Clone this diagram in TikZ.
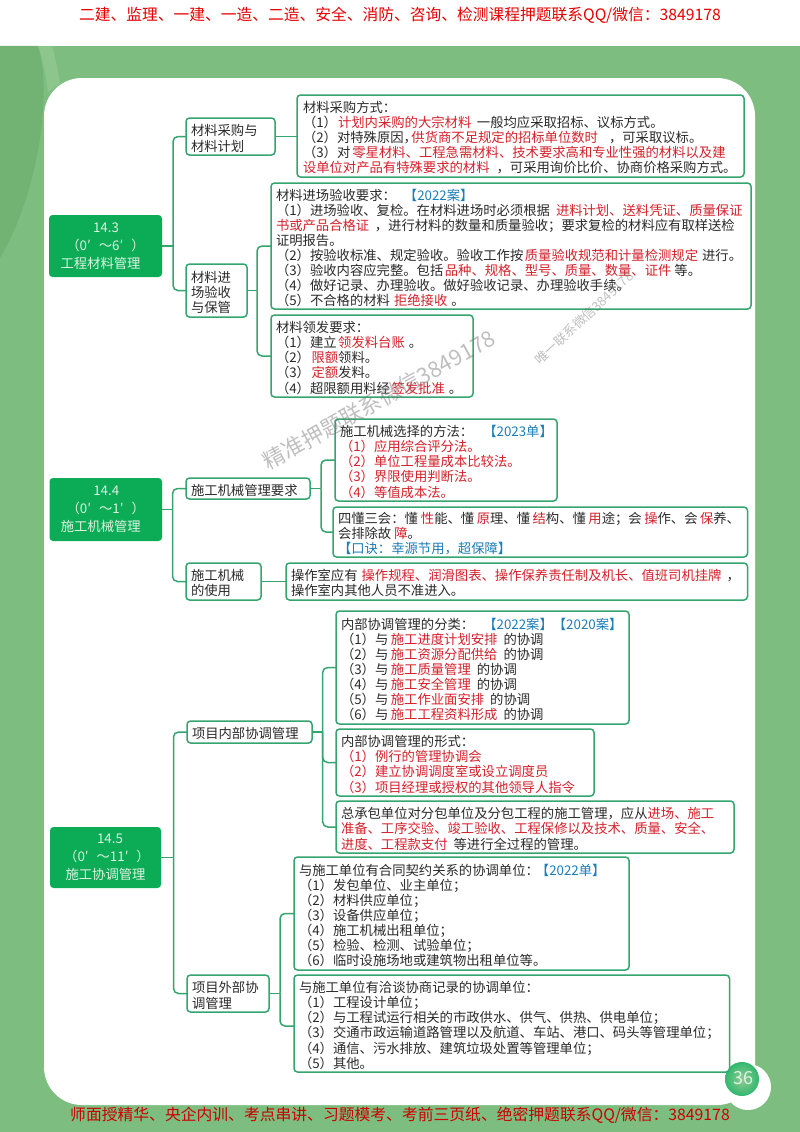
\documentclass[tikz,border=0pt]{standalone}
\usepackage{fontspec}
\setmainfont{Noto Sans CJK SC}
\normallineskiplimit=-10pt
\lineskiplimit=-10pt
\definecolor{bggreen}{HTML}{7DBE80}
\definecolor{bgdark}{HTML}{72B272}
\definecolor{bglight}{HTML}{93CA93}
\definecolor{rootgreen}{HTML}{0CAB55}
\definecolor{linegreen}{HTML}{34A56F}
\definecolor{ink}{HTML}{2A2A2A}
\definecolor{redt}{HTML}{D4212B}
\definecolor{bluet}{HTML}{1C7DB8}
\definecolor{roottext}{HTML}{DDF3E3}
\newcommand{\rd}[1]{\textcolor{redt}{#1}}
\newcommand{\bl}[1]{\textcolor{bluet}{#1}}
\newcommand{\gp}[1]{\hspace{#1pt}}
\tikzset{
  boxst/.style={draw=linegreen,line width=1.5pt,rounded corners=3.5pt,fill=white,
    inner xsep=5pt,inner ysep=0pt,outer sep=0pt,align=left,text=ink,
    font=\fontsize{13.33}{15.1}\selectfont},
  rootst/.style={fill=rootgreen,rounded corners=3.5pt,inner sep=0pt,outer sep=0pt,
    align=center,text=roottext,font=\fontsize{13.33}{18.2}\selectfont},
  conn/.style={draw=linegreen,line width=1.5pt,rounded corners=5pt},
  mark1/.style={text=black!55,opacity=.45,inner sep=0pt},
}
\newcommand{\bx}[7][]{%
  \pgfmathsetmacro\bxw{#5-#3}\pgfmathsetmacro\bxh{#6-#4}%
  \pgfmathsetmacro\bxt{#5-#3-10}%
  \pgfmathsetmacro\bxx{(#3+#5)/2}\pgfmathsetmacro\bxy{(#4+#6)/2}%
  \node[boxst,minimum width=\bxw pt,minimum height=\bxh pt,text width=\bxt pt,#1] (#2) at (\bxx,\bxy) {\rule{0pt}{15pt}\ignorespaces #7};}
\newcommand{\rt}[6]{%
  \pgfmathsetmacro\bxw{#4-#2}\pgfmathsetmacro\bxh{#5-#3}%
  \pgfmathsetmacro\bxx{(#2+#4)/2}\pgfmathsetmacro\bxy{(#3+#5)/2}%
  \node[rootst,minimum width=\bxw pt,minimum height=\bxh pt] (#1) at (\bxx,\bxy) {#6};}
\begin{document}
\begin{tikzpicture}[x=1pt,y=-1pt]
\useasboundingbox (0,0) rectangle (800,1132);
% page background
\fill[white] (0,0) rectangle (800,46);
\fill[bggreen] (0,46) rectangle (800,1132);
\fill[bgdark] (0,46) -- (38,46) .. controls (52,90) and (40,190) .. (0,258) -- cycle;
\fill[bglight,opacity=.7] (38,46) -- (52,46) .. controls (56,60) and (58,70) .. (60,84) -- (48,92) .. controls (46,76) and (43,60) .. (38,46) -- cycle;
\fill[white,rounded corners=38pt] (44,78) rectangle (755,1105);
% page number
\fill[white] (748,1087) circle (23);
\shade[inner color=bglight,outer color=rootgreen!85!white] (742,1079) circle (17);
\node[text=roottext,font=\fontsize{18}{20}\selectfont,inner sep=0pt] (pageno) at (743,1078) {36};
% header and footer
\node[text=red!90!black,font=\fontsize{15.75}{18}\selectfont,inner sep=0pt] (head) at (400,15) {二建、监理、一建、一造、二造、安全、消防、咨询、检测课程押题联系QQ/微信：3849178};
\node[text=red!80!black,font=\fontsize{15.8}{18}\selectfont,inner sep=0pt] (foot) at (400,1115) {师面授精华、央企内训、考点串讲、习题模考、考前三页纸、绝密押题联系QQ/微信：3849178};
% 14.3
\rt{r1}{49}{215}{162}{277}{\gp{1}14.3\\（0′\gp{8}～6′\gp{8}）\hspace*{6pt}\\工程材料管理\hspace*{10pt}}
\bx{c1}{186}{118}{275}{155}{材料采购与\\材料计划}
\bx{c2}{186}{264}{247}{317}{材料进\\场验收\\与保管}
\bx[inner xsep=6pt]{A}{298}{95}{743}{177}{材料采购方式：\\
（1）\gp{1}\rd{计划内采购的大宗材料}\gp{5.6}一般均应采取招标、议标方式。\\
（2）对特殊原因，\gp{-5.6}\rd{供货商不足规定的招标单位数时}\gp{11}，可采取议标。\\
（3）对\gp{2}\rd{零星材料、工程急需材料、技术要求高和专业性强的材料以及建}\\
\rd{设单位对产品有特殊要求的材料}\gp{7}，可采用询价比价、协商价格采购方式。}
\bx{B}{271}{183}{751}{309}{材料进场验收要求：\gp{8}\bl{【2022案】}\\
（1）进场验收、复检。在材料进场时必须根据\gp{6}\rd{进料计划、送料凭证、质量保证}\\
\rd{书或产品合格证}\gp{5.6}，进行材料的数量和质量验收；要求复检的材料应有取样送检\\
证明报告。\\
（2）按验收标准、规定验收。验收工作按\gp{1.5}\rd{质量验收规范和计量检测规定}\gp{4}进行。\\
（3）验收内容应完整。包括\gp{1.5}\rd{品种、规格、型号、质量、数量、证件}\gp{3}等。\\
（4）做好记录、办理验收。做好验收记录、办理验收手续。\\
（5）不合格的材料\gp{4}\rd{拒绝接收}\gp{4}。}
\bx{C}{271}{315}{473}{397}{材料领发要求：\\
（1）建立\gp{1.5}\rd{领发料台账}\gp{4}。\\
（2）\gp{1.5}\rd{限额}领料。\\
（3）\gp{1.5}\rd{定额}发料。\\
（4）超限额用料经\gp{1.5}\rd{签发批准}\gp{4}。}
\coordinate (t1) at (173,246);
\coordinate (t2) at (257,290.5);
\draw[conn] (r1.east) -- (t1);
\draw[conn] (t1) |- (c1.west);
\draw[conn] (t1) |- (c2.west);
\draw[conn] (c1.east) -- (c1.east -| A.west);
\draw[conn] (c2.east) -- (t2);
\draw[conn] (t2) |- (B.west);
\draw[conn] (t2) |- (C.west);
% 14.4
\rt{r2}{49.5}{478}{162}{541}{\gp{1}14.4\\（0′\gp{8}～1′\gp{8}）\hspace*{6pt}\\施工机械管理\hspace*{10pt}}
\bx{c3}{186}{478}{310}{499}{施工机械管理要求}
\bx{c4}{186}{563}{261}{600}{施工机械\\的使用}
\bx[inner xsep=4pt]{D}{335}{419}{557}{501}{\mbox{施工机械选择的方法：\gp{10}\bl{【2023单】}}\\
\rd{（1）应用综合评分法。}\\
\rd{（2）单位工程量成本比较法。}\\
\rd{（3）界限使用判断法。}\\
\rd{（4）等值成本法。}}
\bx{E}{333}{507}{747.5}{557}{\mbox{四懂三会：懂\gp{3}\rd{性}能、懂\gp{2.5}\rd{原}理、懂\gp{2.5}\rd{结}构、懂\gp{2.5}\rd{用}途；会\gp{2.5}\rd{操}作、会\gp{2.5}\rd{保}养、}\\
会排除故\gp{3}\rd{障}。\\
\bl{【口诀：幸源节用，超保障】}}
\bx[inner xsep=4pt]{F}{286}{563}{747.5}{600}{操作室应有\gp{4}\rd{操作规程、润滑图表、操作保养责任制及机长、值班司机挂牌}\gp{5}，\\
操作室内其他人员不准进入。}
\coordinate (t3) at (172.5,509.5);
\coordinate (t4) at (321,488.5);
\draw[conn] (r2.east) -- (t3);
\draw[conn] (t3) |- (c3.west);
\draw[conn] (t3) |- (c4.west);
\draw[conn] (c3.east) -- (t4);
\draw[conn] (t4) |- (D.west);
\draw[conn] (t4) |- (E.west);
\draw[conn] (c4.east) -- (c4.east -| F.west);
% 14.5
\rt{r3}{50}{827}{161}{888}{\gp{9}14.5\\\gp{3}（0′\gp{8}～11′\gp{8}）\\施工协调管理}
\bx{c5}{187}{721}{312}{743}{项目内部协调管理}
\bx{c6}{187}{975}{269}{1012}{项目外部协\\调管理}
\bx{G}{336}{611}{629}{724}{内部协调管理的分类：\gp{9}\bl{【2022案】【2020案】}\\
（1）与\gp{2.5}\rd{施工进度计划安排}\gp{6}的协调\\
（2）与\gp{2.5}\rd{施工资源分配供给}\gp{6}的协调\\
（3）与\gp{2.5}\rd{施工质量管理}\gp{6}的协调\\
（4）与\gp{2.5}\rd{施工安全管理}\gp{6}的协调\\
（5）与\gp{2.5}\rd{施工作业面安排}\gp{6}的协调\\
（6）与\gp{2.5}\rd{施工工程资料形成}\gp{6}的协调}
\bx{H}{336}{729}{594}{796}{内部协调管理的形式：\\
\rd{（1）例行的管理协调会}\\
\rd{（2）建立协调调度室或设立调度员}\\
\rd{（3）项目经理或授权的其他领导人指令}}
\bx{I}{336}{801}{734}{853}{总承包单位对分包单位及分包工程的施工管理，应从\rd{进场、施工}\\
\rd{准备、工序交验、竣工验收、工程保修以及技术、质量、安全、}\\
\rd{进度、工程款支付}\gp{6}等进行全过程的管理。}
\bx{J}{294}{857}{629}{970}{与施工单位有合同契约关系的协调单位：\gp{-3}\bl{【2022单】}\\
（1）发包单位、业主单位；\\
（2）材料供应单位；\\
（3）设备供应单位；\\
（4）施工机械出租单位；\\
（5）检验、检测、试验单位；\\
（6）临时设施场地或建筑物出租单位等。}
\bx{K}{294}{975}{729.5}{1072}{与施工单位有洽谈协商记录的协调单位：\\
（1）工程设计单位；\\
（2）与工程试运行相关的市政供水、供气、供热、供电单位；\\
（3）交通市政运输道路管理以及航道、车站、港口、码头等管理单位；\\
（4）通信、污水排放、建筑垃圾处置等管理单位；\\
（5）其他。}
\coordinate (t5) at (173.5,857.5);
\coordinate (t6) at (322.7,732);
\coordinate (t7) at (280,993.5);
\draw[conn] (r3.east) -- (t5);
\draw[conn] (t5) |- (c5.west);
\draw[conn] (t5) |- (c6.west);
\draw[conn] (c5.east) -- (t6);
\draw[conn] (t6) |- (G.west);
\draw[conn] (t6) |- (H.west);
\draw[conn] (t6) |- (I.west);
\draw[conn] (c6.east) -- (t7);
\draw[conn] (t7) |- (J.west);
\draw[conn] (t7) |- ([yshift=-2.5pt]K.west);
% watermarks
\node[mark1,rotate=29,font=\fontsize{22}{24}\selectfont] (wm1) at (379,400) {精准押题联系微信3849178};
\node[mark1,rotate=43,font=\fontsize{13}{15}\selectfont] (wm2) at (584,318) {唯一联系微信3849178};
\end{tikzpicture}
\end{document}
